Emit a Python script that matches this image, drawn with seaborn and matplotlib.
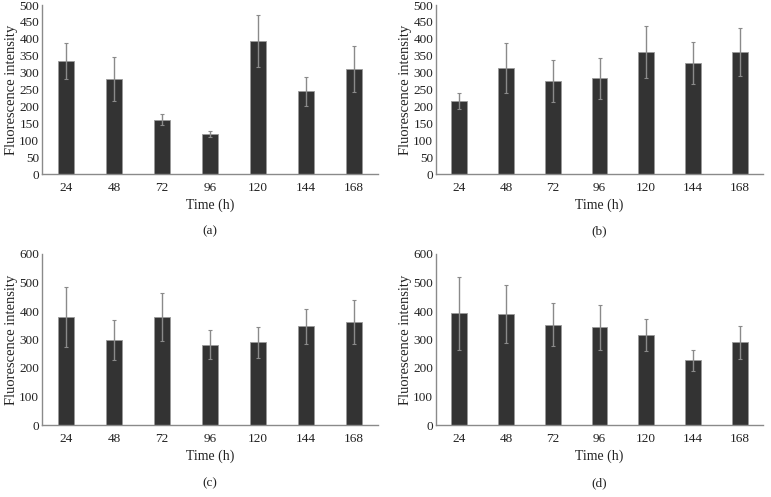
import matplotlib
matplotlib.use('Agg')
import matplotlib.pyplot as plt
import seaborn as sns
import pandas as pd

# ========== Dữ liệu ==========
times = ['24', '48', '72', '96', '120', '144', '168']

mean_a = [334, 280, 161, 118, 394, 245, 311]
err_a = [53, 65, 16, 9, 77, 43, 68]

mean_b = [216, 314, 276, 283, 361, 328, 361]
err_b = [24, 73, 62, 61, 78, 63, 70]

mean_c = [379, 298, 380, 281, 290, 346, 361]
err_c = [105, 70, 84, 51, 55, 62, 78]

mean_d = [392, 389, 352, 343, 315, 227, 290]
err_d = [128, 102, 76, 79, 57, 36, 58]

panels = [
    ('(a)', mean_a, err_a, 500, 50),
    ('(b)', mean_b, err_b, 500, 50),
    ('(c)', mean_c, err_c, 600, 100),
    ('(d)', mean_d, err_d, 600, 100),
]

# ========== Thiết lập kiểu ==========
sns.set_theme(style='white')
plt.rcParams['font.family'] = ['Liberation Serif', 'DejaVu Serif']

W, H = 771, 497
fig = plt.figure(figsize=(W / 100, H / 100), dpi=100)

# vị trí các trục (pixel): left, top, width, height
boxes = [
    (42, 5, 336, 169),
    (436, 5, 327, 169),
    (42, 254, 336, 171),
    (436, 254, 327, 171),
]

BAR_COLOR = '#333333'
GRAY = '#8a8a8a'

for (label, means, errs, ymax, step), (l, t, w, h) in zip(panels, boxes):
    ax = fig.add_axes([l / W, 1 - (t + h) / H, w / W, h / H])
    df = pd.DataFrame({'Time': times, 'Value': means})
    sns.barplot(data=df, x='Time', y='Value', color=BAR_COLOR, width=0.34,
                edgecolor='#9a9a9a', linewidth=0.6, saturation=1, ax=ax)
    ax.errorbar(range(len(times)), means, yerr=errs, fmt='none',
                ecolor=GRAY, elinewidth=1.0, capsize=1.5, capthick=0.8)
    ax.set_xlim(-0.5, len(times) - 0.5)
    ax.set_ylim(0, ymax)
    ax.set_yticks(range(0, ymax + 1, step))
    ax.tick_params(axis='both', length=0, labelsize=9.5, colors='#222222')
    ax.tick_params(axis='x', pad=6)
    ax.tick_params(axis='y', pad=2)
    sns.despine(ax=ax)
    for s in ['left', 'bottom']:
        ax.spines[s].set_color(GRAY)
        ax.spines[s].set_linewidth(1.0)
    ax.set_xlabel('Time (h)', fontsize=10, color='#222222', labelpad=3)
    ax.set_ylabel('Fluorescence intensity', fontsize=10.5, color='#222222', labelpad=1)
    ax.text(0.5, -0.34, label, transform=ax.transAxes, ha='center', va='center',
            fontsize=9.5, color='#222222')

fig.savefig('out.png', dpi=100)
